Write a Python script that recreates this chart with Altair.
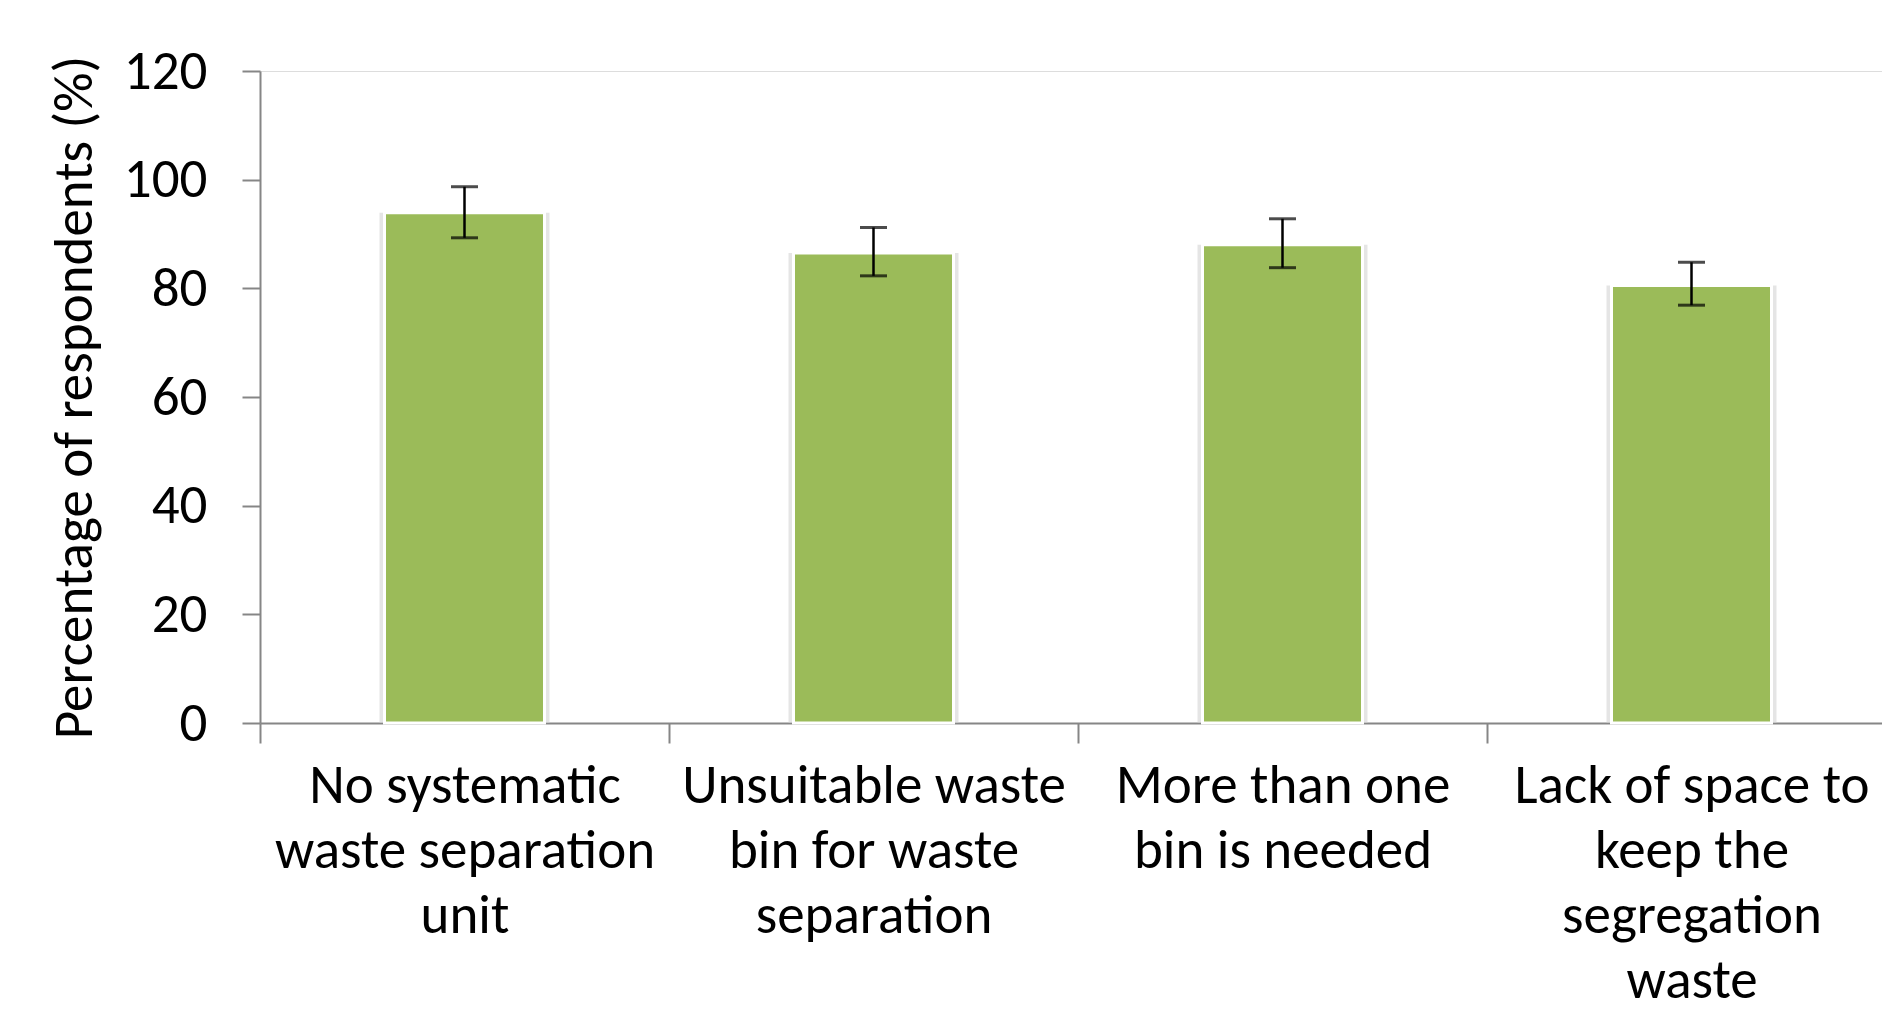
import altair as alt
import pandas as pd

categories = [
    "No systematic|waste separation|unit",
    "Unsuitable waste|bin for waste|separation",
    "More than one|bin is needed",
    "Lack of space to|keep the|segregation|waste",
]
values = [93.9, 86.5, 88.0, 80.5]
err_low = [89.3, 82.3, 83.8, 76.9]
err_high = [98.7, 91.2, 92.8, 84.8]
y_ticks = [0, 20, 40, 60, 80, 100, 120]

FONT = "Carlito, Lato, sans-serif"
GREEN = "#9BBB59"
AXIS_GRAY = "#868686"

df = pd.DataFrame({"cat": categories, "value": values, "low": err_low, "high": err_high})

x_enc = alt.X(
    "cat:N",
    sort=categories,
    scale=alt.Scale(range=[0, 1636], paddingInner=0, paddingOuter=0),
    axis=alt.Axis(
        title=None,
        labelExpr="split(datum.label, '|')",
        labelAngle=0,
        labelAlign="center",
        tickBand="extent",
        tickSize=20,
        tickWidth=2,
        tickColor=AXIS_GRAY,
        domainColor=AXIS_GRAY,
        domainWidth=2,
        labelFont=FONT,
        labelFontSize=55,
        labelLineHeight=65,
        labelPadding=16,
        labelColor="#000000",
        labelLimit=1000,
        labelOverlap=False,
    ),
)

y_scale = alt.Scale(domain=[0, 120], nice=False)
y_axis = alt.Axis(
    values=y_ticks,
    title="Percentage of respondents (%)",
    grid=False,
    tickSize=18,
    tickWidth=2,
    tickColor=AXIS_GRAY,
    domainColor=AXIS_GRAY,
    domainWidth=2,
    labelFont=FONT,
    labelFontSize=55,
    labelPadding=35,
    labelColor="#000000",
    titleFont=FONT,
    titleFontSize=55,
    titleFontWeight="normal",
    titleColor="#000000",
    titleAngle=270,
    titleAlign="center",
    titleBaseline="alphabetic",
    titleX=-169,
    titleY=326,
)

base = alt.Chart(df).encode(x=x_enc)

shadow = base.mark_bar(size=170, color="#cfcfcf", opacity=0.55).encode(
    y=alt.Y("value:Q", scale=y_scale, axis=y_axis)
)
bars = base.mark_bar(size=160, color=GREEN, stroke="white", strokeWidth=3).encode(
    y=alt.Y("value:Q", scale=y_scale, axis=y_axis)
)
rules = base.mark_rule(color="black", strokeWidth=2.5).encode(
    y=alt.Y("low:Q", scale=y_scale), y2="high:Q"
)
cap_low = base.mark_tick(color="black", size=27, thickness=3).encode(
    y=alt.Y("low:Q", scale=y_scale)
)
cap_high = base.mark_tick(color="black", size=27, thickness=3).encode(
    y=alt.Y("high:Q", scale=y_scale)
)

chart = (
    alt.layer(shadow, bars, rules, cap_low, cap_high)
    .properties(
        width=1622,
        height=652,
        padding={"left": 252, "top": 63, "right": 0, "bottom": 288},
        autosize=alt.AutoSizeParams(type="none"),
    )
    .configure_view(stroke=None)
    .configure(background="white")
)

chart.save("out.html", embed_options={"renderer": "svg", "actions": False})
